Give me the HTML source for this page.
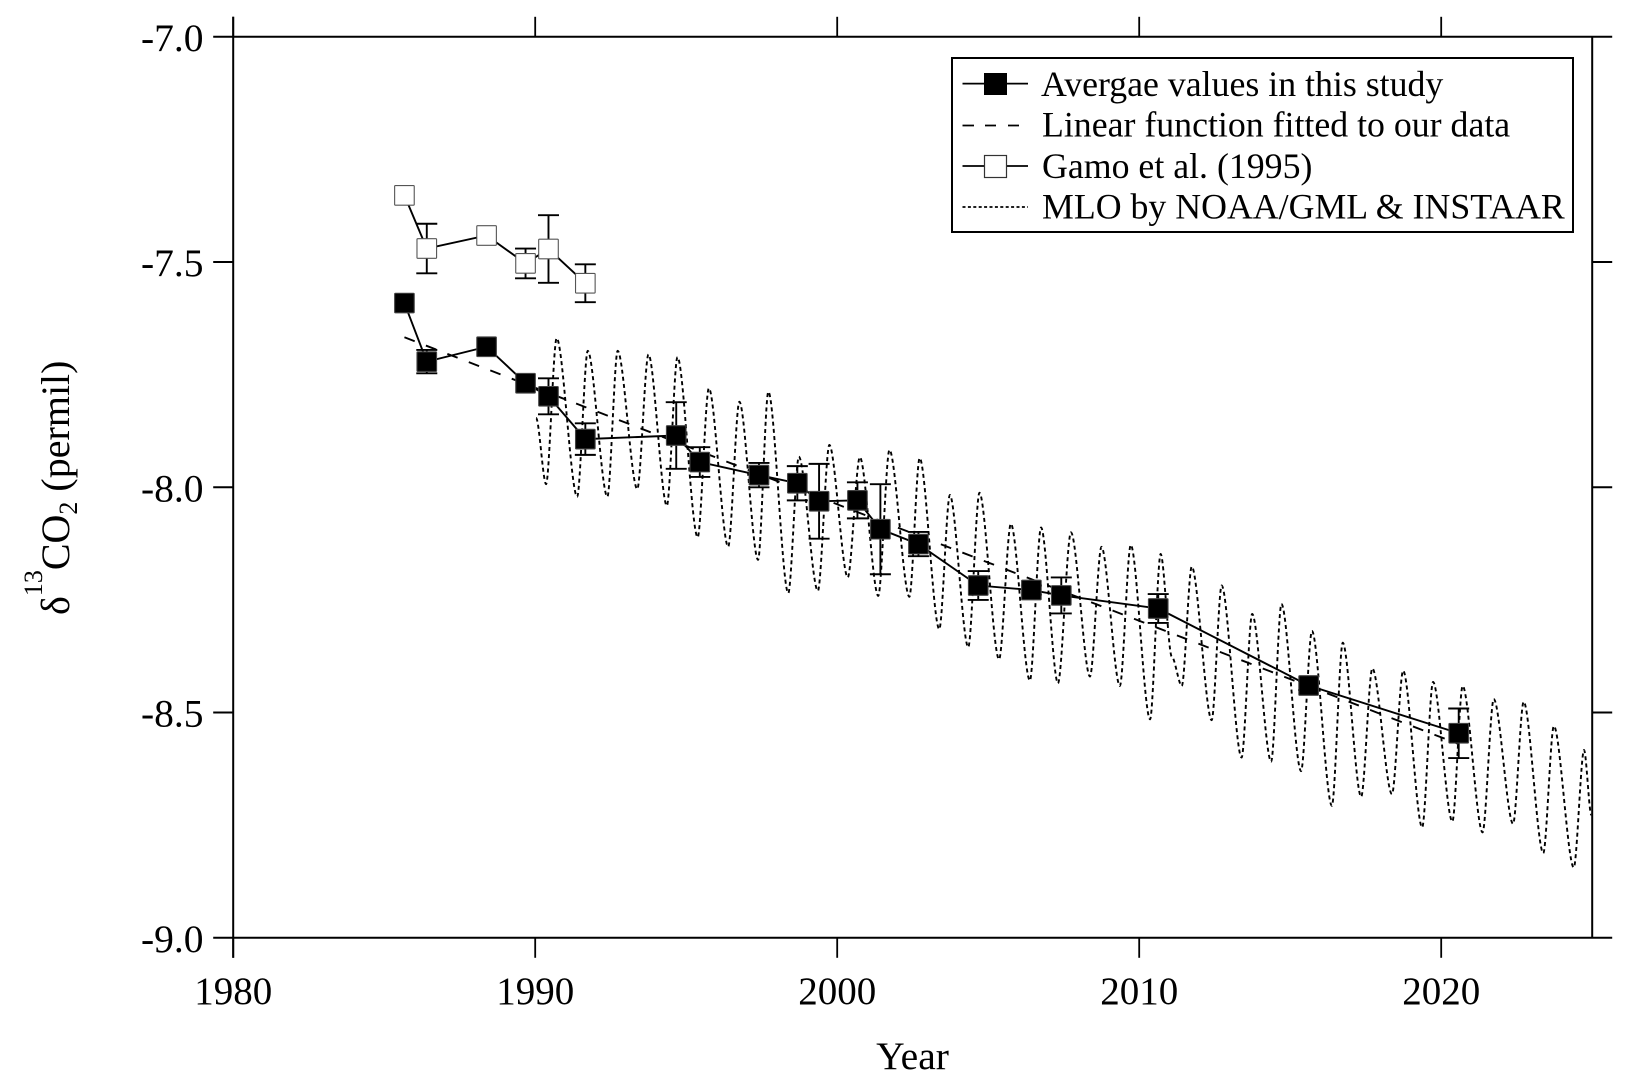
<!DOCTYPE html>
<html lang="en">
<head>
<meta charset="utf-8">
<title>δ13CO2 trend chart</title>
<style>
html,body{margin:0;padding:0;background:#fff;width:1632px;height:1088px;overflow:hidden}
svg{display:block}
text{font-family:"Liberation Serif","DejaVu Serif",serif;fill:#000}
</style>
</head>
<body>
<svg id="chart" xmlns="http://www.w3.org/2000/svg" width="1632" height="1088" viewBox="0 0 1632 1088">
  <rect x="0" y="0" width="1632" height="1088" fill="#fff"/>
  <g id="marks"></g>
  <g id="axes" stroke="#000" fill="none"></g>
  <g id="tick-labels"></g>
  <text x="912.5" y="1069" font-size="39.5" text-anchor="middle">Year</text>
  <text transform="translate(69,615) rotate(-90)" font-size="40">δ<tspan font-size="26" dy="-27">13</tspan><tspan dy="27">CO</tspan><tspan font-size="26" dy="8">2</tspan><tspan dy="-8"> (permil)</tspan></text>
  <g>
    <rect x="952" y="58" width="621" height="174" fill="#fff" stroke="#000" stroke-width="2"/>
    <g>
      <line x1="962.5" x2="1028" y1="83.6" y2="83.6" stroke="#000" stroke-width="1.8"/>
      <rect x="984" y="73" width="23" height="22" fill="#000"/>
      <text x="1041" y="96" font-size="35.8">Avergae values in this study</text>
    </g>
    <g>
      <path d="M962.5 125.5H974M985 125.5H996M1008 125.5H1019" stroke="#000" stroke-width="1.8" fill="none"/>
      <text x="1042" y="136.5" font-size="35.8">Linear function fitted to our data</text>
    </g>
    <g>
      <line x1="962.5" x2="1028" y1="166" y2="166" stroke="#000" stroke-width="1.8"/>
      <rect x="984.5" y="155.5" width="22" height="22" fill="#fff" stroke="#333" stroke-width="1.2"/>
      <text x="1042" y="178" font-size="35.8">Gamo et al. (1995)</text>
    </g>
    <g>
      <line x1="962.5" x2="1028" y1="207" y2="207" stroke="#000" stroke-width="1.8" stroke-dasharray="3 2.4"/>
      <text x="1042" y="218.5" font-size="35.8">MLO by NOAA/GML &amp; INSTAAR</text>
    </g>
  </g>
</svg>
<script>
// Axis ticks
const xTickYears = [1980, 1990, 2000, 2010, 2020];
const xTickLabels = ["1980", "1990", "2000", "2010", "2020"];
const yTickValues = [-7.0, -7.5, -8.0, -8.5, -9.0];
const yTickLabels = ["-7.0", "-7.5", "-8.0", "-8.5", "-9.0"];

// Average values in this study
const avgYears = [1985.67, 1986.41, 1988.39, 1989.68, 1990.44, 1991.66, 1994.67, 1995.45, 1997.41, 1998.68, 1999.40, 2000.67, 2001.43, 2002.69, 2004.67, 2006.43, 2007.42, 2010.63, 2015.61, 2020.58];
const avgValues = [-7.591, -7.721, -7.688, -7.769, -7.798, -7.893, -7.885, -7.944, -7.973, -7.991, -8.031, -8.029, -8.093, -8.126, -8.218, -8.228, -8.240, -8.269, -8.440, -8.546];
const avgErrors = [0, 0.026, 0, 0, 0.040, 0.035, 0.074, 0.033, 0.027, 0.038, 0.083, 0.040, 0.100, 0.027, 0.032, 0.010, 0.040, 0.032, 0.010, 0.055];

// Gamo et al. (1995)
const gamoYears = [1985.67, 1986.41, 1988.39, 1989.68, 1990.44, 1991.66];
const gamoValues = [-7.352, -7.470, -7.441, -7.503, -7.471, -7.547];
const gamoErrors = [0, 0.055, 0, 0.033, 0.075, 0.042];

// Linear function fitted to our data
const fitYears = [1985.67, 2020.58];
const fitValues = [-7.667, -8.570];

// MLO by NOAA/GML & INSTAAR: seasonal turning points
const mloYears = [1990.03, 1990.36, 1990.71, 1991.39, 1991.74, 1992.39, 1992.73, 1993.38, 1993.75, 1994.36, 1994.71, 1995.38, 1995.75, 1996.39, 1996.76, 1997.38, 1997.72, 1998.38, 1998.73, 1999.36, 1999.74, 2000.35, 2000.75, 2001.36, 2001.73, 2002.39, 2002.73, 2003.38, 2003.73, 2004.34, 2004.71, 2005.36, 2005.75, 2006.38, 2006.75, 2007.31, 2007.74, 2008.37, 2008.75, 2009.36, 2009.72, 2010.36, 2010.71, 2011.08, 2011.41, 2011.74, 2012.40, 2012.73, 2013.39, 2013.74, 2014.37, 2014.71, 2015.36, 2015.72, 2016.38, 2016.74, 2017.35, 2017.72, 2018.37, 2018.74, 2019.37, 2019.73, 2020.37, 2020.71, 2021.37, 2021.74, 2022.38, 2022.73, 2023.38, 2023.73, 2024.39, 2024.73, 2024.97];
const mloValues = [-7.846, -7.993, -7.669, -8.021, -7.697, -8.021, -7.697, -8.004, -7.705, -8.041, -7.711, -8.111, -7.780, -8.132, -7.810, -8.161, -7.788, -8.235, -7.932, -8.230, -7.906, -8.200, -7.933, -8.241, -7.917, -8.243, -7.935, -8.315, -8.017, -8.355, -8.012, -8.382, -8.081, -8.429, -8.089, -8.435, -8.100, -8.420, -8.132, -8.441, -8.128, -8.515, -8.148, -8.376, -8.441, -8.176, -8.517, -8.218, -8.600, -8.281, -8.609, -8.259, -8.630, -8.319, -8.707, -8.345, -8.687, -8.402, -8.681, -8.407, -8.755, -8.432, -8.742, -8.441, -8.766, -8.470, -8.747, -8.476, -8.812, -8.530, -8.844, -8.583, -8.727];

// Axis functions
const X_ORIGIN = 233.2, X_PER_YEAR = 30.2;
const Y_ORIGIN = 36.8, Y_PER_UNIT = 450.5;
function xScale(year) { return X_ORIGIN + (year - 1980) * X_PER_YEAR; }
function yScale(value) { return Y_ORIGIN + (-7 - value) * Y_PER_UNIT; }

const SVG_NS = "http://www.w3.org/2000/svg";
const marks = document.getElementById("marks");
const axes = document.getElementById("axes");
const tickLabels = document.getElementById("tick-labels");

function make(tag, parent, props) {
  const el = document.createElementNS(SVG_NS, tag);
  for (const k in props) el.setAttribute(k, props[k]);
  parent.appendChild(el);
  return el;
}

function linePath(xs, ys) {
  return xs.map((v, i) => (i ? "L" : "M") + xScale(v).toFixed(2) + " " + yScale(ys[i]).toFixed(2)).join("");
}

function smoothPath(xs, ys) {
  let d = "M" + xScale(xs[0]).toFixed(2) + " " + yScale(ys[0]).toFixed(2);
  for (let i = 1; i < xs.length; i++) {
    const x0 = xScale(xs[i - 1]), y0 = yScale(ys[i - 1]);
    const x1 = xScale(xs[i]), y1 = yScale(ys[i]);
    const c = (x1 - x0) * 0.3;
    d += "C" + (x0 + c).toFixed(2) + " " + y0.toFixed(2) + " " + (x1 - c).toFixed(2) + " " + y1.toFixed(2) + " " + x1.toFixed(2) + " " + y1.toFixed(2);
  }
  return d;
}

// MLO dotted curve
const mloLine = make("path", marks, { d: smoothPath(mloYears, mloValues), fill: "none", stroke: "#000", "stroke-width": 1.9, "stroke-dasharray": "4 3.2" });



// Linear fit
const fitLine = make("path", marks, { d: linePath(fitYears, fitValues), fill: "none", stroke: "#000", "stroke-width": 1.9, "stroke-dasharray": "11 12" });



function drawErrorBars(years, values, errors, parent) {
  years.forEach((yr, i) => {
    if (!errors[i]) return;
    const cx = xScale(yr);
    const top = yScale(values[i] + errors[i]);
    const bottom = yScale(values[i] - errors[i]);
    const bar = make("path", parent, {
      d: "M" + (cx - 10.5) + " " + top + "H" + (cx + 10.5) + "M" + cx + " " + top + "V" + bottom + "M" + (cx - 10.5) + " " + bottom + "H" + (cx + 10.5),
      fill: "none", stroke: "#000", "stroke-width": 1.9
    });
    
    
  });
}

function drawMarkers(years, values, fill, stroke, parent) {
  years.forEach((yr, i) => {
    const cx = xScale(yr), cy = yScale(values[i]);
    const m = make("rect", parent, { x: cx - 9.8, y: cy - 9.8, width: 19.6, height: 19.6, rx: 0.8, fill: fill, stroke: stroke, "stroke-width": 1.1 });
    
    
  });
}

// Gamo et al. series
const gamoGroup = make("g", marks, {});


const gamoLine = make("path", gamoGroup, { d: linePath(gamoYears, gamoValues), fill: "none", stroke: "#000", "stroke-width": 1.9 });


drawErrorBars(gamoYears, gamoValues, gamoErrors, gamoGroup);
drawMarkers(gamoYears, gamoValues, "#fff", "#555", gamoGroup);

// Average series
const avgGroup = make("g", marks, {});


const avgLine = make("path", avgGroup, { d: linePath(avgYears, avgValues), fill: "none", stroke: "#000", "stroke-width": 1.9 });


drawErrorBars(avgYears, avgValues, avgErrors, avgGroup);
drawMarkers(avgYears, avgValues, "#000", "#444", avgGroup);

// Axes frame: spines run to the far ends of the outward ticks
const xRight = xScale(2025);
const yTop = yScale(-7), yBottom = yScale(-9);
const leftSpine = make("line", axes, { x1: xScale(1980), x2: xScale(1980), y1: yTop - 20, y2: yBottom + 20, "stroke-width": 2 });


const rightSpine = make("line", axes, { x1: xRight, x2: xRight, y1: yTop, y2: yBottom, "stroke-width": 2 });



xTickYears.forEach((yr, i) => {
  const px = xScale(yr);
  const tickTop = make("line", axes, { x1: px, x2: px, y1: yTop - 20, y2: yTop, "stroke-width": 1.8 });
  
  
  const tickBottom = make("line", axes, { x1: px, x2: px, y1: yBottom, y2: yBottom + 20, "stroke-width": 1.8 });
  
  
  const label = make("text", tickLabels, { x: px, y: yBottom + 66, "font-size": 39, "text-anchor": "middle" });
  
  
  label.textContent = xTickLabels[i];
});

yTickValues.forEach((v, i) => {
  const py = yScale(v);
  const tick = make("line", axes, { x1: X_ORIGIN - 20, x2: xRight + 20, y1: py, y2: py, "stroke-width": 2 });
  if (v !== -7 && v !== -9) {
    tick.setAttribute("x2", X_ORIGIN);
    const tickRight = make("line", axes, { x1: xRight, x2: xRight + 20, y1: py, y2: py, "stroke-width": 2 });
    
    
  }
  
  
  const label = make("text", tickLabels, { x: 203.5, y: py + 14, "font-size": 39.5, "text-anchor": "end" });
  
  
  label.textContent = yTickLabels[i];
});
</script>
</body>
</html>
